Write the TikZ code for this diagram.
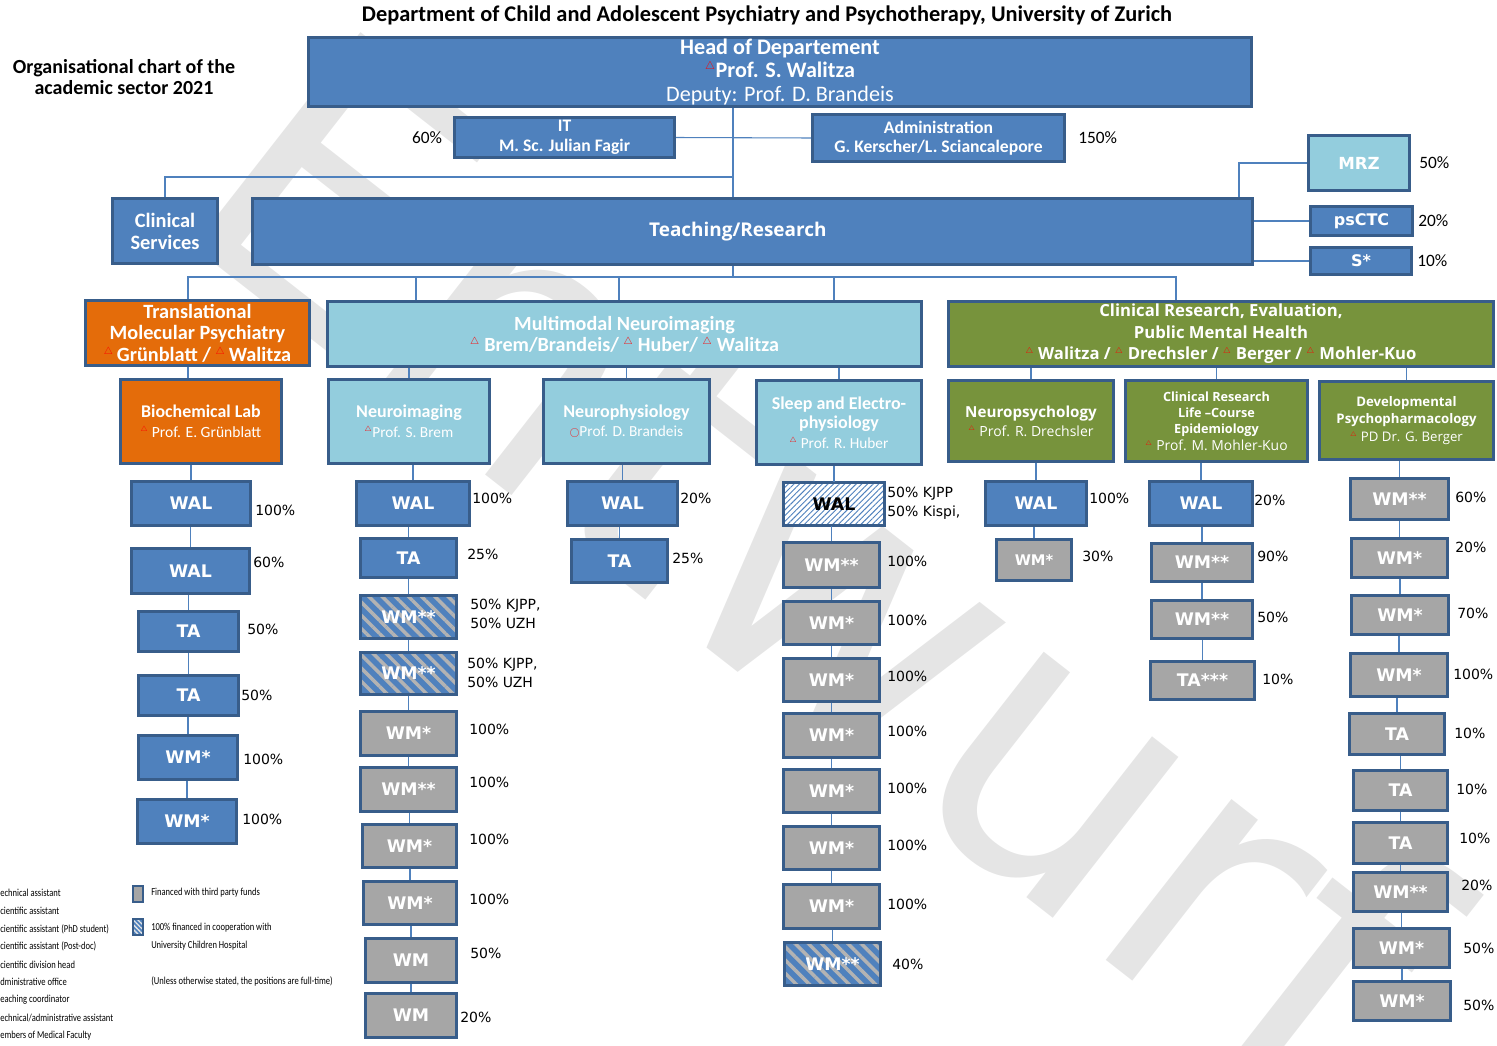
\documentclass[tikz,border=0pt]{standalone}
\usepackage{fontspec}
\usepackage{graphicx}
\setmainfont{Carlito}
\newfontfamily\verd{DejaVu Sans}
\newfontfamily\segoe{Open Sans}
\newfontfamily\narrowfont{Carlito}[FakeStretch=0.8]
\usetikzlibrary{positioning,patterns.meta}
\definecolor{wmblue}{HTML}{4F81BD}
\definecolor{boxline}{HTML}{385D8A}
\definecolor{lightblue}{HTML}{93CDDD}
\definecolor{tmporange}{HTML}{E46C0A}
\definecolor{crgreen}{HTML}{77933C}
\definecolor{wmgray}{HTML}{A6A6A6}
\newcommand{\redtri}{\textsuperscript{\textcolor{red}{\scalebox{0.7}{$\triangle$}}}}
\newcommand{\redcirc}{\textcolor{red}{\raisebox{0.1ex}{\scalebox{0.6}{$\bigcirc$}}}}
\tikzset{
  link/.style={draw=wmblue, line width=0.8pt},
  wh/.style 2 args={minimum width={(#1)*0.75pt-2.5pt}, minimum height={(#2)*0.75pt-2.5pt}},
  dept/.style={draw=boxline, line width=2.5pt, align=center, text=white, inner sep=1pt},
  unit/.style={dept, font=\verd\bfseries\fontsize{13}{15}\selectfont},
  blueunit/.style={unit, fill=wmblue},
  grayunit/.style={unit, fill=wmgray},
  smallunit/.style={grayunit, font=\verd\bfseries\fontsize{11}{13}\selectfont},
  hatchunit/.style={unit, preaction={fill=wmblue}, pattern={Lines[angle=-45,distance=7pt,line width=2.6pt]}, pattern color=wmgray!85!white},
  kispiunit/.style={unit, text=black, preaction={fill=white}, pattern={Lines[angle=45,distance=3pt,line width=0.7pt]}, pattern color=wmblue},
  pct/.style={anchor=west, align=left, inner sep=0pt, font=\verd\fontsize{10.5}{14}\selectfont},
  toppct/.style={inner sep=0pt, font=\fontsize{13}{15}\selectfont},
  legend/.style={anchor=west, align=left, inner sep=0pt, font=\narrowfont\fontsize{8}{9}\selectfont},
}
\begin{document}
\begin{tikzpicture}[x=0.75pt, y=-0.75pt]
\useasboundingbox (0,0) rectangle (1497,1046);
% draft watermark
\begin{scope}
\clip (0,0) rectangle (1497,1046);
\node[rotate=-38, text=gray!20, font=\verd\fontsize{280}{280}\selectfont] (draft) at (820,560) {Entwurf};
\end{scope}
% titles
\node[font=\bfseries\fontsize{16.8}{19}\selectfont] (title) at (767,15) {Department of Child and Adolescent Psychiatry and Psychotherapy, University of Zurich};
\node[align=center, font=\bfseries\fontsize{15}{16}\selectfont] (label) at (124,77) {Organisational chart of the\\academic sector 2021};
% head and staff units
\node[dept, fill=wmblue, wh={946}{68}, font=\fontsize{16.6}{17.6}\selectfont] (hod) at (780,72) {\textbf{Head of Departement}\\\textbf{\redtri Prof. S. Walitza}\\Deputy: Prof. D. Brandeis};
\node[dept, fill=wmblue, wh={223}{43}, font=\bfseries\fontsize{13.2}{15}\selectfont] (it) at (564.5,137.5) {IT\\M. Sc. Julian Fagir};
\node[toppct, left=8pt of it] (it-p) {60\%};
\node[dept, fill=wmblue, wh={255}{50}, font=\bfseries\fontsize{13.2}{14.5}\selectfont] (adm) at (938.5,138) {Administration\\G. Kerscher/L. Sciancalepore};
\node[toppct, right=9pt of adm] (adm-p) {150\%};
\node[dept, fill=wmblue, wh={108}{68}, font=\bfseries\fontsize{15.3}{16.5}\selectfont] (cs) at (165,231) {Clinical\\Services};
\node[dept, fill=wmblue, wh={1003}{69}, font=\segoe\bfseries\fontsize{14.2}{15}\selectfont] (tr) at (752.5,231.5) {Teaching/Research\hspace*{22pt}};
\node[dept, fill=lightblue, wh={104}{58}, font=\verd\bfseries\fontsize{12.5}{15}\selectfont] (mrz) at (1359,163) {MRZ};
\node[dept, fill=wmblue, wh={105}{32}, font=\verd\bfseries\fontsize{12}{14}\selectfont] (psctc) at (1361.5,221) {psCTC};
\node[dept, fill=wmblue, wh={104}{30}, font=\verd\bfseries\fontsize{12}{14}\selectfont] (sstar) at (1361,261) {S*};
\node[toppct, right=6pt of mrz] (mrz-p) {50\%};
\node[toppct, right=3pt of psctc] (psctc-p) {20\%};
\node[toppct, right=3pt of sstar] (sstar-p) {10\%};
% research groups
\node[dept, fill=tmporange, wh={227}{68}, font=\bfseries\fontsize{15.2}{16.1}\selectfont] (tmp) at (197.5,333) {Translational\\Molecular Psychiatry\\\redtri\,Grünblatt / \redtri\,Walitza};
\node[dept, fill=lightblue, wh={597}{68}, font=\bfseries\fontsize{15.1}{15.8}\selectfont] (mmn) at (624.5,334) {Multimodal Neuroimaging\\\redtri\ Brem/Brandeis/ \redtri\ Huber/ \redtri\ Walitza};
\node[dept, fill=crgreen, wh={548}{68}, font=\segoe\bfseries\fontsize{12.5}{16.1}\selectfont] (crph) at (1221,334) {Clinical Research, Evaluation,\\Public Mental Health\\\redtri\ Walitza / \redtri\ Drechsler / \redtri\ Berger / \redtri\ Mohler-Kuo};
\node[dept, fill=tmporange, wh={164}{87}, font=\fontsize{11.7}{15}\selectfont] (bio) at (201,421.5) {{\bfseries\fontsize{13.4}{15}\selectfont Biochemical Lab}\\\redtri\ Prof. E. Grünblatt};
\node[dept, fill=lightblue, wh={164}{87}, font=\fontsize{11.5}{15}\selectfont] (nimg) at (409,421.5) {{\bfseries\fontsize{13.5}{15}\selectfont Neuroimaging}\\\redtri Prof. S. Brem};
\node[dept, fill=lightblue, wh={169}{87}, font=\fontsize{11.5}{14}\selectfont] (nphys) at (626.5,421.5) {{\bfseries\fontsize{13.5}{14}\selectfont Neurophysiology}\\\redcirc Prof. D. Brandeis};
\node[dept, fill=lightblue, wh={168}{87}, font=\fontsize{11.5}{14.5}\selectfont] (sleep) at (839,422.5) {{\bfseries\fontsize{13.5}{14.5}\selectfont Sleep and Electro-}\\{\bfseries\fontsize{13.5}{14.5}\selectfont physiology}\\\redtri\ Prof. R. Huber};
\node[dept, fill=crgreen, wh={168}{84}, font=\segoe\fontsize{10.5}{14}\selectfont] (npsy) at (1031,421) {{\bfseries\fontsize{11.4}{14}\selectfont Neuropsychology}\\\redtri\ Prof. R. Drechsler};
\node[dept, fill=crgreen, wh={185}{84}, font=\segoe\fontsize{9.5}{12.2}\selectfont] (crlc) at (1216.5,421) {\textbf{Clinical Research}\\\textbf{Life –Course}\\\textbf{Epidemiology}\\{\fontsize{10.4}{13}\selectfont\redtri\ Prof. M. Mohler-Kuo}};
\node[dept, fill=crgreen, wh={177}{81}, font=\segoe\fontsize{9.9}{13.1}\selectfont] (devp) at (1406.5,420.5) {\textbf{Developmental}\\\textbf{Psychopharmacology}\\\redtri\ PD Dr. G. Berger};
% staff columns
\foreach \xa/\ya/\xb/\yb/\kind/\lbl/\pc/\px/\py [count=\i] in {
  130/480/252/527/blueunit/WAL/100\%/255/510,
  130/547/251/595/blueunit/WAL/60\%/253/562,
  137/610/240/653/blueunit/TA/50\%/247/629,
  137/674/240/717/blueunit/TA/50\%/241/695,
  137/734/239/781/blueunit/WM*/100\%/243/759,
  136/798/238/845/blueunit/WM*/100\%/242/819}
{
  \node[\kind, wh={\xb-\xa}{\yb-\ya}] (bl-\i) at ({(\xa+\xb)/2},{(\ya+\yb)/2}) {\lbl};
  \node[pct] (bl-\i-p) at (\px,\py) {\pc};
}
\foreach \xa/\ya/\xb/\yb/\kind/\lbl/\pc/\px/\py [count=\i] in {
  355/480/471/527/blueunit/WAL/100\%/472/498,
  359/537/458/579/blueunit/TA/25\%/467/554,
  359/594/458/640/hatchunit/WM**/{50\% KJPP,\\50\% UZH}/470/614,
  359/651/458/696/hatchunit/WM**/{50\% KJPP,\\50\% UZH}/467/673,
  359/710/458/757/grayunit/WM*/100\%/469/729,
  359/766/458/813/grayunit/WM**/100\%/469/782,
  361/823/458/869/grayunit/WM*/100\%/469/839,
  362/880/458/926/grayunit/WM*/100\%/469/899,
  364/937/458/984/grayunit/WM/50\%/470/953,
  364/992/458/1039/grayunit/WM/20\%/460/1017}
{
  \node[\kind, wh={\xb-\xa}{\yb-\ya}] (ni-\i) at ({(\xa+\xb)/2},{(\ya+\yb)/2}) {\lbl};
  \node[pct] (ni-\i-p) at (\px,\py) {\pc};
}
\foreach \xa/\ya/\xb/\yb/\kind/\lbl/\pc/\px/\py [count=\i] in {
  566/480/679/527/blueunit/WAL/20\%/680/498,
  570/538/669/584/blueunit/TA/25\%/672/558}
{
  \node[\kind, wh={\xb-\xa}{\yb-\ya}] (np-\i) at ({(\xa+\xb)/2},{(\ya+\yb)/2}) {\lbl};
  \node[pct] (np-\i-p) at (\px,\py) {\pc};
}
\foreach \xa/\ya/\xb/\yb/\kind/\lbl/\pc/\px/\py [count=\i] in {
  782/481/886/527/kispiunit/WAL/{50\% KJPP\\50\% Kispi,}/887/503,
  782/541/881/589/grayunit/WM**/100\%/887/561,
  782/600/881/646/grayunit/WM*/100\%/887/620,
  782/657/881/703/grayunit/WM*/100\%/887/676,
  782/712/881/759/grayunit/WM*/100\%/887/731,
  782/768/881/814/grayunit/WM*/100\%/887/788,
  782/825/881/871/grayunit/WM*/100\%/887/845,
  782/883/881/930/grayunit/WM*/100\%/887/904,
  783/941/882/987/hatchunit/WM**/40\%/892/964}
{
  \node[\kind, wh={\xb-\xa}{\yb-\ya}] (se-\i) at ({(\xa+\xb)/2},{(\ya+\yb)/2}) {\lbl};
  \node[pct] (se-\i-p) at (\px,\py) {\pc};
}
\foreach \xa/\ya/\xb/\yb/\kind/\lbl/\pc/\px/\py [count=\i] in {
  984/480/1088/527/blueunit/WAL/100\%/1089/498,
  995/538/1073/582/smallunit/WM*/30\%/1082/556}
{
  \node[\kind, wh={\xb-\xa}{\yb-\ya}] (nps-\i) at ({(\xa+\xb)/2},{(\ya+\yb)/2}) {\lbl};
  \node[pct] (nps-\i-p) at (\px,\py) {\pc};
}
\foreach \xa/\ya/\xb/\yb/\kind/\lbl/\pc/\px/\py [count=\i] in {
  1148/480/1254/527/blueunit/WAL/20\%/1254/500,
  1150/542/1254/583/grayunit/WM**/90\%/1257/556,
  1150/599/1254/640/grayunit/WM**/50\%/1257/617,
  1149/660/1256/701/grayunit/TA***/10\%/1262/679}
{
  \node[\kind, wh={\xb-\xa}{\yb-\ya}] (lc-\i) at ({(\xa+\xb)/2},{(\ya+\yb)/2}) {\lbl};
  \node[pct] (lc-\i-p) at (\px,\py) {\pc};
}
\foreach \xa/\ya/\xb/\yb/\kind/\lbl/\pc/\px/\py [count=\i] in {
  1349/477/1450/521/grayunit/WM**/60\%/1455/497,
  1350/537/1449/579/grayunit/WM*/20\%/1455/547,
  1350/594/1450/636/grayunit/WM*/70\%/1457/613,
  1349/652/1449/698/grayunit/WM*/100\%/1453/674,
  1348/712/1446/756/grayunit/TA/10\%/1454/733,
  1352/769/1449/812/grayunit/TA/10\%/1456/789,
  1352/821/1449/865/grayunit/TA/10\%/1459/838,
  1352/871/1449/913/grayunit/WM**/20\%/1461/885,
  1352/927/1451/969/grayunit/WM*/50\%/1463/948,
  1352/980/1452/1022/grayunit/WM*/50\%/1463/1005}
{
  \node[\kind, wh={\xb-\xa}{\yb-\ya}] (dp-\i) at ({(\xa+\xb)/2},{(\ya+\yb)/2}) {\lbl};
  \node[pct] (dp-\i-p) at (\px,\py) {\pc};
}
% connectors
\coordinate (spine) at (733,177);
\coordinate (mrz-j) at (1239,163);
\coordinate (bus) at (733,277);
\coordinate (bus-l) at (188,277);
\coordinate (bus-r) at (1176,277);
\draw[link] (spine |- hod.south) -- (spine |- tr.north);
\draw[link] (it.east) -- (adm.west);
\draw[link] (spine) -| (cs.north);
\draw[link] (mrz-j |- tr.north) -- (mrz-j) -- (mrz.west);
\draw[link] (tr.east |- psctc.west) -- (psctc.west);
\draw[link] (tr.east |- sstar.west) -- (sstar.west);
\draw[link] (bus |- tr.south) -- (bus);
\draw[link] (bus-l |- tmp.north) -- (bus-l) -- (bus-r) -- (bus-r |- crph.north);
\foreach \x [count=\i] in {416,619,834} {
  \coordinate (drop-\i) at (\x,277);
  \draw[link] (drop-\i) -- (drop-\i |- mmn.north);
}
\draw[link] (bus-l |- tmp.south) -- (bus-l |- bio.north);
\foreach \n in {nimg,nphys,sleep} \draw[link] (\n.north) -- (\n.north |- mmn.south);
\foreach \n in {npsy,crlc,devp} \draw[link] (\n.north) -- (\n.north |- crph.south);
\foreach \g/\c/\m in {bio/bl/6, nimg/ni/10, nphys/np/2, sleep/se/9, npsy/nps/2, crlc/lc/4, devp/dp/10} {
  \draw[link] (\c-1.north) -- (\c-1.north |- \g.south);
  \foreach \i [evaluate=\i as \j using int(\i-1)] in {2,...,\m}
    \draw[link] (\c-\i.north) -- (\c-\i.north |- \c-\j.south);
}
% legend
\foreach \lbl [count=\i] in {echnical assistant, cientific assistant, cientific assistant (PhD student), cientific assistant (Post-doc), cientific division head, dministrative office, eaching coordinator, echnical/administrative assistant, embers of Medical Faculty}
  \node[legend] (key-\i) at (0,{875.5+17.8*\i}) {\lbl};
\draw[draw=boxline, fill=wmgray, line width=1.2pt] (133,886) rectangle (143,902);
\draw[draw=boxline, line width=1.2pt, preaction={fill=wmblue}, pattern={Lines[angle=-45,distance=2.5pt,line width=1pt]}, pattern color=white!80!gray] (133,919) rectangle (143,935);
\node[legend] (fin-1) at (151,893) {Financed with third party funds};
\node[legend] (fin-2) at (151,928) {100\% financed in cooperation with};
\node[legend] (fin-3) at (151,946) {University Children Hospital};
\node[legend] (fin-4) at (151,981) {(Unless otherwise stated, the positions are full-time)};
\end{tikzpicture}
\end{document}
